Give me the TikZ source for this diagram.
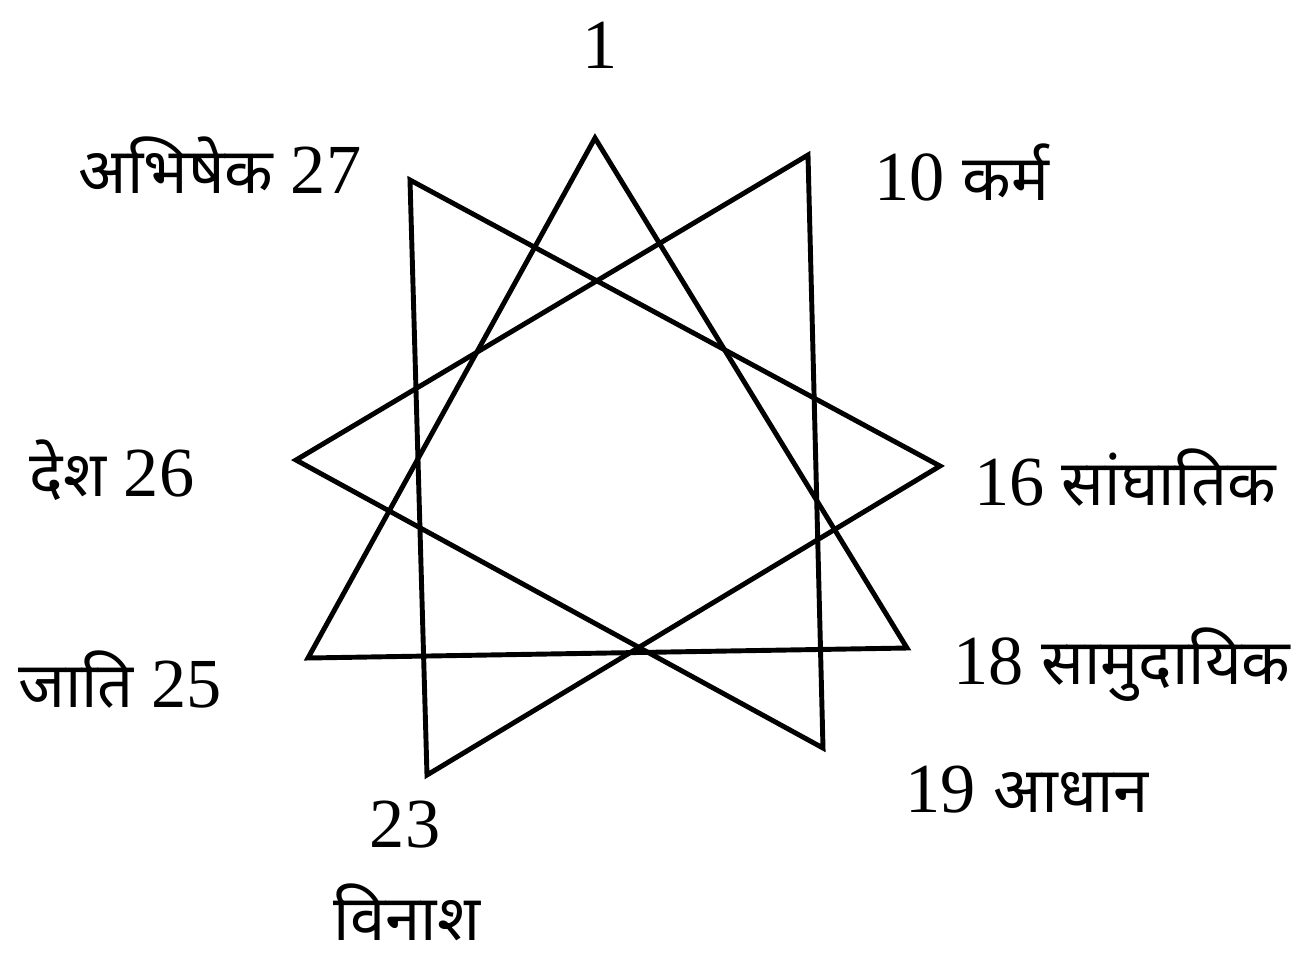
\documentclass[tikz,border=0pt]{standalone}
\usepackage{fontspec}
\setmainfont{Liberation Serif}
\newfontfamily\deva[Script=Devanagari,Scale=0.9]{Noto Sans}
\begin{document}
\begin{tikzpicture}[x=0.01cm,y=-0.01cm,
  edge/.style={line width=1.4pt,line join=miter},
  lbl/.style={font=\fontsize{20}{24}\selectfont,inner sep=0pt}]
  \useasboundingbox (0,0) rectangle (1305,956);

  % star points
  \coordinate (v1)  at (595,138);
  \coordinate (v10) at (808,155);
  \coordinate (v16) at (940,466);
  \coordinate (v18) at (907,648);
  \coordinate (v19) at (823,748);
  \coordinate (v23) at (427,775);
  \coordinate (v25) at (308,658);
  \coordinate (v26) at (296,460);
  \coordinate (v27) at (410,180);

  % three triangles
  \draw[edge] (v1) -- (v18) -- (v25) -- cycle;
  \draw[edge] (v10) -- (v26) -- (v19) -- cycle;
  \draw[edge] (v27) -- (v16) -- (v23) -- cycle;

  % labels
  \node[lbl] (l1)  at (600,45)   {1};
  \node[lbl] (l27) at (220,165)  {{\deva अभिषेक} 27};
  \node[lbl] (l10) at (962,172)  {10 {\deva कर्म}};
  \node[lbl] (l26) at (112,470)  {{\deva देश} 26};
  \node[lbl] (l16) at (1125,478) {16 {\deva सांघातिक}};
  \node[lbl] (l25) at (120,680)  {{\deva जाति} 25};
  \node[lbl] (l18) at (1122,665) {18 {\deva सामुदायिक}};
  \node[lbl] (l19) at (1027,790) {19 {\deva आधान}};
  \node[lbl] (l23) at (405,825)  {23};
  \node[lbl] (lvi) at (407,912)  {\deva विनाश};
\end{tikzpicture}
\end{document}
